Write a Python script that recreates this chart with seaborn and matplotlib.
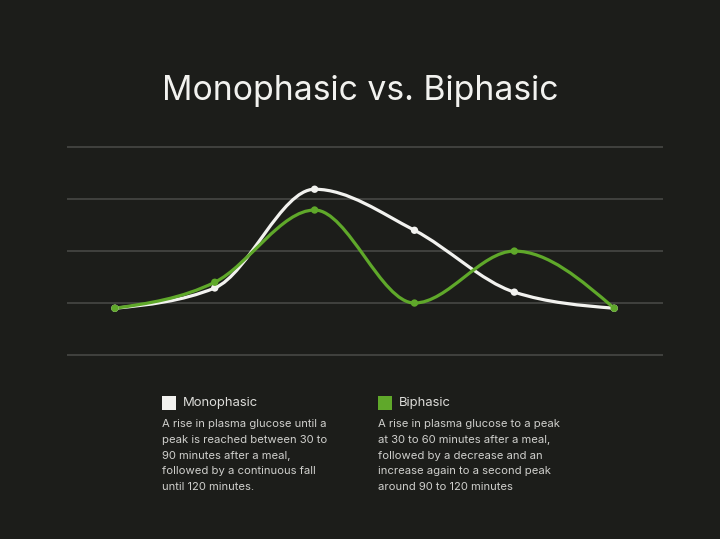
import numpy as np
import matplotlib
matplotlib.use("Agg")
import matplotlib.pyplot as plt
from matplotlib.path import Path
from matplotlib.patches import PathPatch, Rectangle
import seaborn as sns

# data
time_points = [0, 1, 2, 3, 4, 5]
monophasic = [0.90, 1.29, 3.19, 2.40, 1.21, 0.90]
biphasic = [0.90, 1.40, 2.79, 1.00, 2.00, 0.90]
grid_levels = [0, 1, 2, 3, 4]

title_text = "Monophasic vs. Biphasic"
mono_label = "Monophasic"
bi_label = "Biphasic"
mono_desc = ("A rise in plasma glucose until a\npeak is reached between 30 to\n"
             "90 minutes after a meal,\nfollowed by a continuous fall\nuntil 120 minutes.")
bi_desc = ("A rise in plasma glucose to a peak\nat 30 to 60 minutes after a meal,\n"
           "followed by a decrease and an\nincrease again to a second peak\naround 90 to 120 minutes")

bg = "#1c1d1a"
white = "#f2f2ef"
green = "#5fa82a"
grid_col = "#474845"

sns.set_theme(style="dark")
plt.rcParams["font.family"] = ["Inter", "DejaVu Sans"]


def monotone_path(xs, ys):
    # monotone cubic (like d3 curveMonotoneX) as bezier segments in data coords
    xs = np.asarray(xs, float)
    ys = np.asarray(ys, float)
    n = len(xs)
    h = np.diff(xs)
    s = np.diff(ys) / h
    t = np.zeros(n)
    for i in range(1, n - 1):
        if s[i - 1] * s[i] <= 0:
            t[i] = 0
        else:
            p = (s[i - 1] * h[i] + s[i] * h[i - 1]) / (h[i - 1] + h[i])
            t[i] = np.sign(s[i - 1]) * min(abs(s[i - 1]), abs(s[i]), 0.5 * abs(p)) * 2
    t[0] = (3 * s[0] - t[1]) / 2
    t[-1] = (3 * s[-1] - t[-2]) / 2
    verts = [(xs[0], ys[0])]
    codes = [Path.MOVETO]
    for i in range(n - 1):
        dx = h[i] / 3
        verts += [(xs[i] + dx, ys[i] + dx * t[i]),
                  (xs[i + 1] - dx, ys[i + 1] - dx * t[i + 1]),
                  (xs[i + 1], ys[i + 1])]
        codes += [Path.CURVE4] * 3
    return Path(verts, codes)


fig = plt.figure(figsize=(7.2, 5.39), dpi=100, facecolor=bg)
ax = fig.add_axes([0.093, 0.3317, 0.828, 0.405])
ax.set_facecolor(bg)

for lvl in grid_levels:
    ax.axhline(lvl, color=grid_col, lw=1.2, zorder=0)

for vals, col in [(monophasic, white), (biphasic, green)]:
    ax.add_patch(PathPatch(monotone_path(time_points, vals), fill=False,
                           edgecolor=col, lw=2.3, zorder=3))
    sns.scatterplot(x=time_points, y=vals, color=col, s=28, edgecolor="none",
                    ax=ax, zorder=4)

ax.set_xlim(-0.48, 5.49)
ax.set_ylim(-0.1, 4.1)
ax.set_xticks([])
ax.set_yticks([])
ax.set_xlabel("")
ax.set_ylabel("")
for sp in ax.spines.values():
    sp.set_visible(False)

fig.text(0.5, 1 - 91 / 539, title_text, color=white, fontsize=24.3,
         ha="center", va="center")

# legend blocks
for x0, col, lab, desc in [(162, white, mono_label, mono_desc),
                           (378, green, bi_label, bi_desc)]:
    fig.patches.append(Rectangle((x0 / 720, 1 - 410 / 539), 14 / 720, 14 / 539,
                                 transform=fig.transFigure, facecolor=col,
                                 edgecolor="none"))
    fig.text((x0 + 21) / 720, 1 - 403 / 539, lab, color="#dcdcd9", fontsize=9.4,
             ha="left", va="center")
    fig.text(x0 / 720, 1 - 419 / 539, desc, color="#cfcfcc", fontsize=8.1,
             ha="left", va="top", linespacing=1.72)

fig.savefig("out.png", dpi=100, facecolor=bg)
